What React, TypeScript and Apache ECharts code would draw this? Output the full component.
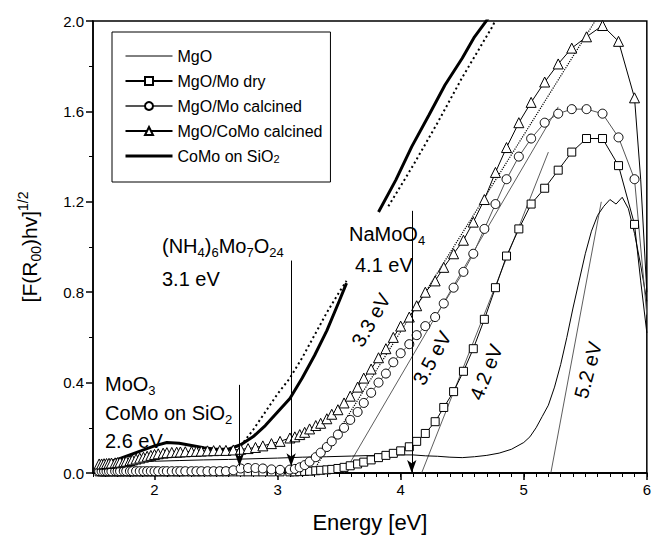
import React, { useEffect, useRef } from 'react';
import * as echarts from 'echarts';

const FONT = 'Liberation Sans, Arial, Helvetica, sans-serif';

// Marker energies (eV) shared by the three marker series
const energy = [
  1.55, 1.57, 1.59, 1.61, 1.63, 1.65, 1.68, 1.70, 1.72, 1.75,
  1.77, 1.80, 1.82, 1.85, 1.88, 1.91, 1.94, 1.97, 2.00, 2.03,
  2.07, 2.10, 2.14, 2.18, 2.21, 2.25, 2.30, 2.34, 2.38, 2.43,
  2.48, 2.53, 2.58, 2.64, 2.70, 2.76, 2.82, 2.88, 2.95, 3.02,
  3.10, 3.14, 3.18, 3.22, 3.26, 3.31, 3.35, 3.40, 3.44, 3.49,
  3.54, 3.59, 3.65, 3.70, 3.76, 3.82, 3.88, 3.94, 4.00, 4.07,
  4.13, 4.20, 4.28, 4.35, 4.43, 4.51, 4.59, 4.68, 4.77, 4.86,
  4.96, 5.06, 5.17, 5.28, 5.39, 5.51, 5.64, 5.77, 5.90,
];

const coMoCalcined = [
  0.040, 0.040, 0.041, 0.042, 0.043, 0.044, 0.045, 0.046, 0.048, 0.050,
  0.052, 0.055, 0.058, 0.062, 0.066, 0.070, 0.074, 0.078, 0.082, 0.085,
  0.088, 0.090, 0.091, 0.092, 0.093, 0.094, 0.095, 0.096, 0.097, 0.098,
  0.099, 0.100, 0.100, 0.102, 0.105, 0.108, 0.113, 0.120, 0.130, 0.140,
  0.155, 0.160, 0.170, 0.180, 0.195, 0.210, 0.220, 0.240, 0.260, 0.280,
  0.310, 0.340, 0.380, 0.420, 0.460, 0.510, 0.550, 0.600, 0.650, 0.690,
  0.740, 0.800, 0.850, 0.910, 0.970, 1.030, 1.110, 1.210, 1.330, 1.440,
  1.550, 1.640, 1.730, 1.810, 1.880, 1.930, 1.980, 1.910, 1.660,
];

const moCalcined = [
  0.008, 0.008, 0.008, 0.008, 0.008, 0.008, 0.008, 0.008, 0.008, 0.008,
  0.008, 0.008, 0.008, 0.008, 0.008, 0.008, 0.008, 0.008, 0.008, 0.008,
  0.008, 0.008, 0.008, 0.008, 0.008, 0.008, 0.008, 0.008, 0.008, 0.008,
  0.008, 0.008, 0.008, 0.012, 0.020, 0.022, 0.022, 0.020, 0.016, 0.014,
  0.015, 0.018, 0.025, 0.035, 0.050, 0.070, 0.090, 0.115, 0.140, 0.170,
  0.200, 0.235, 0.270, 0.310, 0.355, 0.400, 0.440, 0.490, 0.530, 0.570,
  0.610, 0.650, 0.690, 0.750, 0.820, 0.890, 0.970, 1.080, 1.190, 1.300,
  1.400, 1.480, 1.550, 1.590, 1.610, 1.610, 1.590, 1.485, 1.300,
];

const moDry = [
  0.005, 0.005, 0.005, 0.005, 0.005, 0.005, 0.005, 0.005, 0.005, 0.005,
  0.005, 0.005, 0.005, 0.005, 0.005, 0.005, 0.005, 0.005, 0.005, 0.005,
  0.005, 0.005, 0.005, 0.005, 0.005, 0.005, 0.005, 0.005, 0.005, 0.005,
  0.005, 0.005, 0.005, 0.005, 0.005, 0.005, 0.005, 0.005, 0.005, 0.005,
  0.005, 0.005, 0.006, 0.007, 0.008, 0.010, 0.012, 0.014, 0.016, 0.020,
  0.025, 0.032, 0.040, 0.048, 0.058, 0.068, 0.078, 0.087, 0.098, 0.116,
  0.140, 0.175, 0.227, 0.290, 0.360, 0.450, 0.550, 0.680, 0.820, 0.960,
  1.080, 1.190, 1.260, 1.340, 1.420, 1.480, 1.480, 1.360, 1.100,
];

// curve ends past the last marker
const tailEnergy = [5.95, 6.0];
const coMoTail = [1.3, 0.8];
const moCalcinedTail = [1.0, 0.7];
const moDryTail = [0.85, 0.62];

// MgO (thin line, no markers)
const mgoEnergy = [
  1.55, 1.6, 1.7, 1.8, 1.9, 2.0, 2.2, 2.4, 2.6, 2.8, 3.0, 3.2, 3.4, 3.6, 3.8, 4.0,
  4.1, 4.2, 4.3, 4.4, 4.5, 4.6, 4.7, 4.8, 4.9, 5.0, 5.05, 5.1, 5.15, 5.2, 5.25,
  5.3, 5.35, 5.4, 5.45, 5.5, 5.55, 5.6, 5.65, 5.7, 5.75, 5.8, 5.85, 5.9, 5.95, 6.0,
];
const mgo = [
  0.03, 0.035, 0.04, 0.045, 0.05, 0.052, 0.055, 0.058, 0.06, 0.063, 0.066, 0.07, 0.072, 0.075, 0.078, 0.08,
  0.08, 0.076, 0.074, 0.07, 0.068, 0.072, 0.078, 0.088, 0.105, 0.135, 0.16, 0.2, 0.25, 0.3, 0.38,
  0.48, 0.6, 0.73, 0.85, 0.97, 1.07, 1.14, 1.18, 1.21, 1.19, 1.22, 1.17, 1.06, 0.92, 0.76,
];

// CoMo on SiO2 (thick line, broken behind the NaMoO4 label)
const sio2Energy = [
  1.55, 1.6, 1.7, 1.8, 1.9, 2.0, 2.1, 2.2, 2.3, 2.4, 2.5, 2.6, 2.7, 2.8, 2.9, 3.0,
  3.1, 3.2, 3.3, 3.4, 3.5, 3.56, 3.7, 3.82, 3.96, 4.09, 4.23, 4.36, 4.5, 4.6, 4.69, 4.72,
];
const sio2 = [
  0.03, 0.045, 0.06, 0.08, 0.1, 0.12, 0.135, 0.132, 0.122, 0.112, 0.105, 0.105, 0.125, 0.16, 0.21, 0.27,
  0.33, 0.42, 0.52, 0.63, 0.76, 0.84, null, 1.155, 1.296, 1.444, 1.584, 1.717, 1.835, 1.93, 1.996, 2.02,
];

// reference spectrum drawn dotted next to it
const refEnergy = [2.7, 2.8, 2.9, 3.0, 3.1, 3.2, 3.3, 3.4, 3.5, 3.56, 3.7, 3.9, 4.1, 4.3, 4.5, 4.75, 4.78];
const refCurve = [0.12, 0.19, 0.27, 0.35, 0.42, 0.51, 0.61, 0.71, 0.8, 0.85, null, 1.18, 1.36, 1.55, 1.75, 1.98, 2.02];

// band-gap tangent lines
const tan33E = [3.28, 5.58];
const tan33Y = [0, 2.0];
const tan35E = [3.54, 5.28];
const tan35Y = [0, 1.62];
const tan42E = [4.17, 5.2];
const tan42Y = [0, 1.42];
const tan52E = [5.22, 5.63];
const tan52Y = [0, 1.2];

// arrows marking the edges
const arrowE = [2.69, 3.11, 4.09];
const arrowTop = [0.39, 0.94, 1.16];
const arrowTip = [0.03, 0.03, 0.0];

const xTicks = [2, 3, 4, 5, 6];

const pts = (xs: number[], ys: (number | null)[]) => xs.map((x, i) => [x, ys[i]]);
const withTail = (ys: number[], tail: number[]) => [
  ...pts(energy, ys),
  ...tailEnergy.map((x, i) => ({ value: [x, tail[i]], symbol: 'none' })),
];

const SUB = { fontSize: 13, fontFamily: FONT, verticalAlign: 'bottom', lineHeight: 13, fill: '#000' };
const SUP = { fontSize: 13, fontFamily: FONT, verticalAlign: 'top', lineHeight: 13, fill: '#000' };

const label = (text: string, x: number, y: number, rotationDeg = 0, align = 'left') => ({
  type: 'text',
  x,
  y,
  rotation: (rotationDeg * Math.PI) / 180,
  z: 100,
  style: {
    text,
    fontSize: 20,
    fontFamily: FONT,
    fill: '#000',
    lineHeight: 26,
    align,
    verticalAlign: 'middle',
    rich: { sub: SUB, sup: SUP },
  },
});

export default function App() {
  const ref = useRef<HTMLDivElement>(null);
  useEffect(() => {
    if (!ref.current) return;
    const chart = echarts.init(ref.current, undefined, { renderer: 'svg' });
    const markerBase = {
      type: 'line',
      lineStyle: { color: '#000', width: 1 },
      itemStyle: { color: '#fff', borderColor: '#000', borderWidth: 1 },
      emphasis: { disabled: true },
    };
    const thin = (name: string, xs: number[], ys: number[], type: string, color: string) => ({
      type: 'line',
      name,
      xAxisIndex: 1,
      data: pts(xs, ys),
      symbol: 'none',
      lineStyle: { color, width: type === 'dotted' ? 1.2 : 0.8, type },
      z: 1,
      emphasis: { disabled: true },
    });
    const noSymbol = () => ({ color: 'rgba(0,0,0,0)', borderColor: 'rgba(0,0,0,0)', borderWidth: 0 });
    chart.setOption({
      animation: false,
      backgroundColor: '#fff',
      textStyle: { fontFamily: FONT },
      grid: {
        left: 93,
        top: 21,
        width: 556,
        height: 452,
        show: true,
        borderColor: '#000',
        borderWidth: 1.5,
        backgroundColor: 'transparent',
      },
      legend: {
        data: [
          { name: 'MgO', itemStyle: noSymbol(), lineStyle: { color: '#000', width: 1 } },
          { name: 'MgO/Mo dry' },
          { name: 'MgO/Mo calcined' },
          { name: 'MgO/CoMo calcined' },
          { name: 'CoMo on SiO2', itemStyle: noSymbol(), lineStyle: { color: '#000', width: 3 } },
        ],
        orient: 'vertical',
        left: 112,
        top: 32,
        padding: [16, 8, 18, 12],
        itemGap: 9,
        itemWidth: 47,
        itemHeight: 10,
        borderColor: '#000',
        borderWidth: 1,
        backgroundColor: '#fff',
        selectedMode: false,
        formatter: (n: string) => (n === 'CoMo on SiO2' ? 'CoMo on SiO{sub|2}' : n),
        textStyle: {
          fontSize: 16,
          fontFamily: FONT,
          color: '#000',
          rich: { sub: { fontSize: 11, fontFamily: FONT, verticalAlign: 'bottom', lineHeight: 11, color: '#000' } },
        },
      },
      xAxis: [
        {
          type: 'value',
          min: 1.5,
          max: 6,
          position: 'bottom',
          axisLine: { show: true, onZero: false, lineStyle: { color: '#000', width: 1.5 } },
          axisTick: { show: true, customValues: xTicks, length: 7, lineStyle: { color: '#000', width: 1.5 } },
          axisLabel: { customValues: xTicks, fontSize: 15, color: '#000', margin: 9, fontFamily: FONT },
          splitLine: { show: false },
          name: 'Energy [eV]',
          nameLocation: 'middle',
          nameGap: 38,
          nameTextStyle: { fontSize: 22, color: '#000', fontFamily: FONT },
        },
        {
          type: 'value',
          min: 1.5,
          max: 6,
          interval: 0.1,
          position: 'bottom',
          axisLine: { show: true, onZero: false, lineStyle: { color: '#000', width: 1.5 } },
          axisTick: { show: true, length: 4, lineStyle: { color: '#000', width: 1 } },
          axisLabel: { show: false },
          splitLine: { show: false },
        },
      ],
      yAxis: {
        type: 'value',
        min: 0,
        max: 2,
        interval: 0.4,
        axisLine: { show: true, lineStyle: { color: '#000', width: 1.5 } },
        axisTick: { show: true, length: 7, lineStyle: { color: '#000', width: 1.5 } },
        minorTick: { show: true, splitNumber: 2, length: 4, lineStyle: { color: '#000', width: 1 } },
        axisLabel: {
          formatter: (v: number) => v.toFixed(1),
          fontSize: 15,
          color: '#000',
          margin: 9,
          fontFamily: FONT,
        },
        splitLine: { show: false },
        minorSplitLine: { show: false },
        name: '[F(R{sub|00})hv]{sup|1/2}',
        nameLocation: 'middle',
        nameGap: 50,
        nameRotate: 90,
        nameTextStyle: {
          fontSize: 21,
          color: '#000',
          fontFamily: FONT,
          lineHeight: 27,
          rich: {
            sub: { fontSize: 14, fontFamily: FONT, verticalAlign: 'bottom', lineHeight: 14, color: '#000' },
            sup: { fontSize: 14, fontFamily: FONT, verticalAlign: 'top', lineHeight: 14, color: '#000' },
          },
        },
      },
      series: [
        thin('tan33', tan33E, tan33Y, 'dotted', '#000'),
        thin('tan35', tan35E, tan35Y, 'solid', '#333'),
        thin('tan42', tan42E, tan42Y, 'solid', '#333'),
        thin('tan52', tan52E, tan52Y, 'solid', '#333'),
        {
          type: 'line',
          name: 'MgO',
          data: pts(mgoEnergy, mgo),
          symbol: 'none',
          lineStyle: { color: '#000', width: 1 },
          itemStyle: { color: '#000' },
          emphasis: { disabled: true },
          markLine: {
            silent: true,
            symbol: ['none', 'arrow'],
            symbolSize: [7, 13],
            label: { show: false },
            lineStyle: { color: '#000', width: 1, type: 'solid' },
            emphasis: { disabled: true },
            data: arrowE.map((x, i) => [{ coord: [x, arrowTop[i]] }, { coord: [x, arrowTip[i]] }]),
          },
        },
        {
          ...markerBase,
          name: 'MgO/Mo dry',
          data: withTail(moDry, moDryTail),
          symbol: 'rect',
          symbolSize: 8,
        },
        {
          ...markerBase,
          name: 'MgO/Mo calcined',
          data: withTail(moCalcined, moCalcinedTail),
          symbol: 'circle',
          symbolSize: 9,
          lineStyle: { color: '#555', width: 1 },
        },
        {
          ...markerBase,
          name: 'MgO/CoMo calcined',
          data: withTail(coMoCalcined, coMoTail),
          symbol: 'triangle',
          symbolSize: 10,
        },
        {
          type: 'line',
          name: 'ref',
          data: pts(refEnergy, refCurve),
          symbol: 'none',
          connectNulls: false,
          lineStyle: { color: '#000', width: 2, type: [2, 3] },
          emphasis: { disabled: true },
        },
        {
          type: 'line',
          name: 'CoMo on SiO2',
          data: pts(sio2Energy, sio2),
          symbol: 'none',
          connectNulls: false,
          lineStyle: { color: '#000', width: 3 },
          itemStyle: { color: '#000' },
          emphasis: { disabled: true },
        },
      ],
      graphic: [
        label('MoO{sub|3}', 105, 384),
        label('CoMo on SiO{sub|2}', 105, 413),
        label('2.6 eV', 105, 441),
        label('(NH{sub|4}){sub|6}Mo{sub|7}O{sub|24}', 162, 246),
        label('3.1 eV', 162, 279),
        label('NaMoO{sub|4}', 349, 234),
        label('4.1 eV', 355, 265),
        label('3.3 eV', 371, 320, 60, 'center'),
        label('3.5 eV', 432, 358, 61, 'center'),
        label('4.2 eV', 486, 372, 68, 'center'),
        label('5.2 eV', 588, 370, 75, 'center'),
      ],
    });
    return () => chart.dispose();
  }, []);
  return (
    <div
      ref={ref}
      style={{ position: 'fixed', left: 0, top: 0, width: 654, height: 542, background: '#fff' }}
    />
  );
}
